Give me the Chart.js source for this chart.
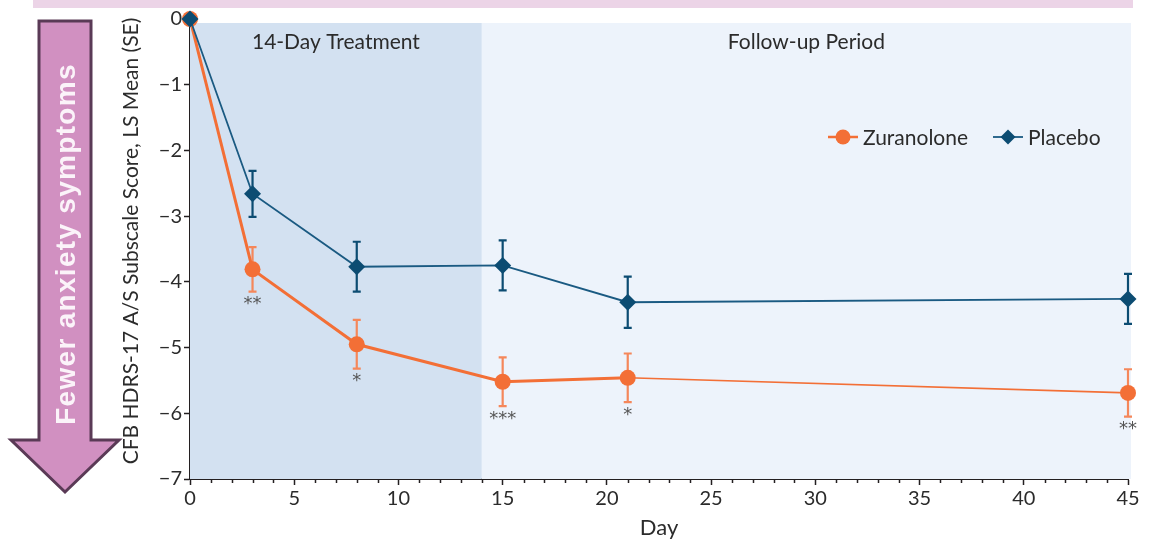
<!DOCTYPE html>
<html>
<head>
<meta charset="utf-8">
<script src="https://cdn.jsdelivr.net/npm/chart.js@4"></script>
<style>
  html, body { margin: 0; padding: 0; background: #fff; }
  #wrap { width: 1152px; height: 548px; position: relative; }
</style>
</head>
<body>
<div id="wrap"><canvas id="chart"></canvas></div>
<script>
// values
const days = [0, 3, 8, 15, 21, 45];
const zuranolone = [0, -3.81, -4.95, -5.52, -5.46, -5.69];
const zuranoloneSE = [0, 0.34, 0.37, 0.37, 0.37, 0.36];
const placebo = [0, -2.66, -3.77, -3.75, -4.31, -4.26];
const placeboSE = [0, 0.35, 0.38, 0.38, 0.39, 0.38];
const significance = ['', '**', '*', '***', '*', '**'];
const periodLabels = ['14-Day Treatment', 'Follow-up Period'];
const periodBounds = [0, 14, 45];
const seriesNames = ['Zuranolone', 'Placebo'];
const yTitle = 'CFB HDRS-17 A/S Subscale Score, LS Mean (SE)';

const ORANGE = '#f36f36';
const ORANGE_ERR = '#f5875a';
const NAVY = '#0c4c72';
const NAVY_LINE = '#1a5a82';
const TEXT = '#2b2b2b';
const FONT = 'Lato, "Open Sans", sans-serif';

const toPoints = (ys) => days.map((d, i) => ({ x: d, y: ys[i] }));

// arrow + pink strip at the top
const decorations = {
  id: 'decorations',
  beforeDraw(chart) {
    const ctx = chart.ctx;
    ctx.save();
    ctx.fillStyle = '#fff';
    ctx.fillRect(0, 0, chart.width, chart.height);
    ctx.fillStyle = '#ecd4e7';
    ctx.fillRect(33, 0, 1100, 8);

    ctx.beginPath();
    ctx.moveTo(39, 21);
    ctx.lineTo(91, 21);
    ctx.lineTo(91, 440);
    ctx.lineTo(119, 440);
    ctx.lineTo(65, 492);
    ctx.lineTo(11, 440);
    ctx.lineTo(39, 440);
    ctx.closePath();
    ctx.fillStyle = '#d190c1';
    ctx.fill();
    ctx.lineWidth = 3;
    ctx.strokeStyle = '#5a3a56';
    ctx.lineJoin = 'miter';
    ctx.stroke();

    ctx.translate(67, 244);
    ctx.rotate(-Math.PI / 2);
    ctx.fillStyle = '#fbf3f9';
    ctx.font = 'bold 28px "Liberation Sans", Arial, sans-serif';
    ctx.letterSpacing = '1.3px';
    ctx.textAlign = 'center';
    ctx.textBaseline = 'middle';
    ctx.fillText('Fewer anxiety symptoms', 0, 0);
    ctx.restore();
  }
};

// shaded periods, error bars, significance marks
const periodsAndErrors = {
  id: 'periodsAndErrors',
  beforeDatasetsDraw(chart) {
    const { ctx, chartArea, scales: { x, y } } = chart;
    ctx.save();
    const fills = ['#d3e1f1', '#edf3fb'];
    for (let i = 0; i < periodLabels.length; i++) {
      const x0 = x.getPixelForValue(periodBounds[i]);
      let x1 = x.getPixelForValue(periodBounds[i + 1]);
      if (i === periodLabels.length - 1) x1 += 3;
      ctx.fillStyle = fills[i];
      ctx.fillRect(x0, chartArea.top + 4, x1 - x0, chartArea.bottom - chartArea.top - 4);
      ctx.fillStyle = TEXT;
      ctx.font = '21px ' + FONT;
      ctx.textAlign = 'center';
      ctx.textBaseline = 'middle';
      ctx.fillText(periodLabels[i], (x0 + x1) / 2, chartArea.top + 23);
    }

    const groups = [
      { ys: zuranolone, se: zuranoloneSE, color: ORANGE_ERR },
      { ys: placebo, se: placeboSE, color: NAVY }
    ];
    groups.forEach(g => {
      ctx.strokeStyle = g.color;
      ctx.lineWidth = 2.2;
      days.forEach((d, i) => {
        if (!g.se[i]) return;
        const px = x.getPixelForValue(d);
        const top = y.getPixelForValue(g.ys[i] + g.se[i]);
        const bot = y.getPixelForValue(g.ys[i] - g.se[i]);
        ctx.beginPath();
        ctx.moveTo(px, top); ctx.lineTo(px, bot);
        ctx.moveTo(px - 4, top); ctx.lineTo(px + 4, top);
        ctx.moveTo(px - 4, bot); ctx.lineTo(px + 4, bot);
        ctx.stroke();
      });
    });

    ctx.fillStyle = '#555';
    ctx.font = '18px "DejaVu Sans", sans-serif';
    ctx.textAlign = 'center';
    ctx.textBaseline = 'top';
    days.forEach((d, i) => {
      if (!significance[i]) return;
      const px = x.getPixelForValue(d);
      const py = y.getPixelForValue(zuranolone[i] - zuranoloneSE[i]);
      ctx.fillText(significance[i], px, py + 4);
    });
    ctx.restore();
  },
  afterDraw(chart) {
    const { ctx, chartArea, scales: { x } } = chart;
    ctx.save();
    // minor day ticks
    ctx.strokeStyle = '#231f20';
    ctx.lineWidth = 1.5;
    for (let d = x.min; d <= x.max; d++) {
      if (d % 5 === 0) continue;
      const px = Math.round(x.getPixelForValue(d)) + 0.5;
      ctx.beginPath();
      ctx.moveTo(px, chartArea.bottom);
      ctx.lineTo(px, chartArea.bottom + 4);
      ctx.stroke();
    }
    // y axis title
    ctx.save();
    ctx.translate(131, 241);
    ctx.rotate(-Math.PI / 2);
    ctx.fillStyle = TEXT;
    ctx.font = '21px ' + FONT;
    ctx.textAlign = 'center';
    ctx.textBaseline = 'middle';
    ctx.fillText(yTitle, 0, 0);
    ctx.restore();
    // legend
    const items = [
      { name: seriesNames[0], line: ORANGE, fill: ORANGE, style: 'circle', x: 828 },
      { name: seriesNames[1], line: NAVY_LINE, fill: NAVY, style: 'rectRot', x: 993 }
    ];
    const ly = 137;
    items.forEach(it => {
      ctx.strokeStyle = it.line;
      ctx.lineWidth = it.style === 'circle' ? 2.5 : 1.8;
      ctx.beginPath();
      ctx.moveTo(it.x, ly);
      ctx.lineTo(it.x + 30, ly);
      ctx.stroke();
      ctx.fillStyle = it.fill;
      ctx.beginPath();
      if (it.style === 'circle') {
        ctx.arc(it.x + 15, ly, 7.5, 0, Math.PI * 2);
      } else {
        ctx.moveTo(it.x + 15, ly - 7.5);
        ctx.lineTo(it.x + 22.5, ly);
        ctx.lineTo(it.x + 15, ly + 7.5);
        ctx.lineTo(it.x + 7.5, ly);
        ctx.closePath();
      }
      ctx.fill();
      ctx.fillStyle = TEXT;
      ctx.font = '21px ' + FONT;
      ctx.textAlign = 'left';
      ctx.textBaseline = 'middle';
      ctx.fillText(it.name, it.x + 35, ly + 1);
    });
    ctx.restore();
  }
};

new Chart(document.getElementById('chart'), {
  type: 'line',
  data: {
    datasets: [
      {
        label: seriesNames[0],
        data: toPoints(zuranolone),
        borderColor: ORANGE,
        backgroundColor: ORANGE,
        pointBackgroundColor: ORANGE,
        pointBorderWidth: 0,
        pointRadius: 8,
        pointStyle: 'circle',
        borderWidth: 3,
        segment: { borderWidth: c => c.p0DataIndex >= 4 ? 1.6 : 3 },
        order: 1,
        clip: false
      },
      {
        label: seriesNames[1],
        data: toPoints(placebo),
        borderColor: NAVY_LINE,
        backgroundColor: NAVY,
        pointBackgroundColor: NAVY,
        pointBorderWidth: 0,
        pointRadius: 8.5,
        pointStyle: 'rectRot',
        borderWidth: 1.8,
        order: 0,
        clip: false
      }
    ]
  },
  options: {
    responsive: true,
    maintainAspectRatio: false,
    animation: false,
    layout: { padding: { left: 120, right: 24, top: 19, bottom: 0 } },
    plugins: {
      legend: { display: false },
      tooltip: { enabled: false }
    },
    scales: {
      x: {
        type: 'linear',
        min: 0,
        max: 45,
        afterFit: s => { s.height = 69; },
        ticks: { stepSize: 5, color: TEXT, font: { family: FONT, size: 20 }, padding: 2 },
        grid: { drawOnChartArea: false, drawTicks: true, tickLength: 6, tickColor: '#231f20', tickWidth: 1.5 },
        border: { display: true, color: '#231f20', width: 2 },
        title: { display: true, text: 'Day', color: TEXT, font: { family: FONT, size: 22 }, padding: { top: 0, bottom: 7 } }
      },
      y: {
        min: -7,
        max: 0,
        afterFit: s => { s.width = 70; },
        ticks: {
          stepSize: 1,
          color: TEXT,
          font: { family: FONT, size: 20 },
          padding: 2,
          callback: v => v === 0 ? '0' : '\u2212' + Math.abs(v)
        },
        grid: { drawOnChartArea: false, drawTicks: true, tickLength: 6, tickColor: '#231f20', tickWidth: 1.5 },
        border: { display: true, color: '#231f20', width: 2 },
        title: { display: false }
      }
    }
  },
  plugins: [decorations, periodsAndErrors]
});
</script>
</body>
</html>
